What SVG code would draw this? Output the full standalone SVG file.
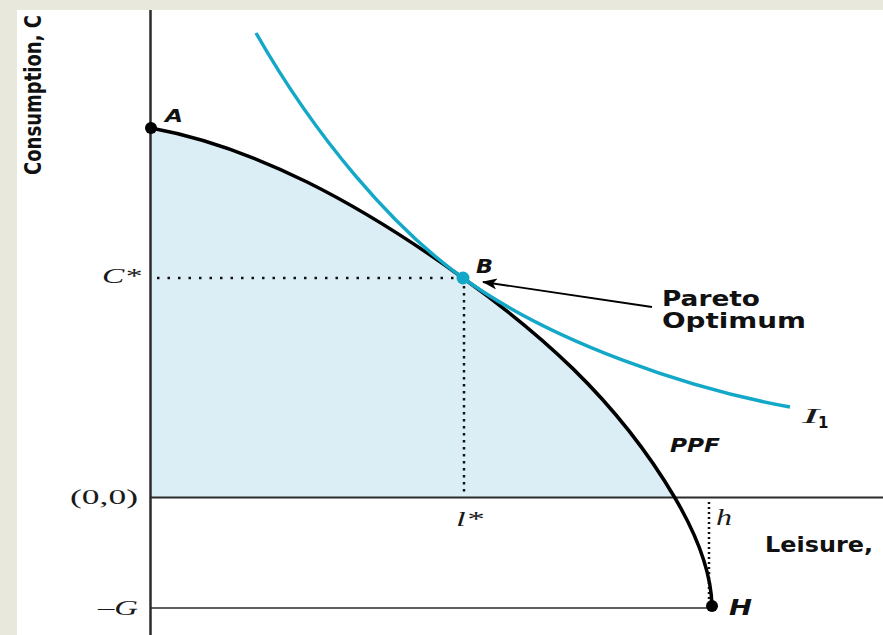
<svg xmlns="http://www.w3.org/2000/svg" width="883" height="635" viewBox="0 0 883 635">
<defs>
<style>
.sans{font-family:"DejaVu Sans","Liberation Sans",sans-serif;font-weight:bold;fill:#111}
.sansi{font-family:"DejaVu Sans","Liberation Sans",sans-serif;font-weight:bold;font-style:italic;fill:#111}
.serif{font-family:"Liberation Serif","DejaVu Serif",serif;fill:#1a1a1a}
.serifi{font-family:"Liberation Serif","DejaVu Serif",serif;font-style:italic;fill:#1a1a1a}
.axis{stroke:#2b2b2b;fill:none}
.dot{stroke:#111;stroke-width:2.5;fill:none}
.ppf{stroke:#000;stroke-width:3.5;fill:none}
.ic{stroke:#14a8c8;stroke-width:3.5;fill:none}
</style>
<marker id="ah" viewBox="0 0 15 11" refX="14" refY="5.5" markerWidth="15" markerHeight="11" markerUnits="userSpaceOnUse" orient="auto">
<path d="M0,0 L15,5.5 L0,11 L4,5.5 Z" fill="#000"/>
</marker>
</defs>
<rect width="883" height="635" fill="#fff"/>
<g id="feasible">
<path d="M151,128 C255,147 359,203 463,278 C534,329 615,396 675,498 L151,498 Z" fill="#dceef5"/>
</g>
<g id="y-label">
<text class="sans" transform="translate(41,175) rotate(-90)" font-size="23" textLength="160" lengthAdjust="spacingAndGlyphs" style="font-family:'DejaVu Sans Condensed','DejaVu Sans',sans-serif">Consumption, C</text>
</g>
<g id="axes">
<line class="axis" x1="150.5" y1="10" x2="150.5" y2="635" stroke-width="2.5"/>
<line class="axis" x1="151" y1="497.5" x2="883" y2="497.5" stroke-width="2.2"/>
<line class="axis" x1="151" y1="608" x2="712" y2="608" stroke-width="1.6"/>
</g>
<g id="guides">
<line class="dot" x1="157" y1="278" x2="460" y2="278" stroke-dasharray="2.5 8"/>
<line class="dot" x1="464" y1="286" x2="464" y2="495" stroke-dasharray="2.5 4.5"/>
<line class="dot" x1="709" y1="502" x2="709" y2="600" stroke-dasharray="2 3" stroke-width="2.2"/>
</g>
<g id="ppf">
<path class="ppf" d="M151,128 C255,147 359,203 463,278 C534,329 615,396 675,498 C690,523.5 711,566 712,606"/>
</g>
<g id="indifference">
<path class="ic" d="M256,33 C316,138 393,228 463,278 C553,343 690,389 790,407"/>
</g>
<g id="connectors">
<line x1="652" y1="307" x2="483" y2="282" stroke="#000" stroke-width="1.8" marker-end="url(#ah)"/>
</g>
<g id="point-A">
<circle cx="151" cy="128" r="6" fill="#000"/>
<text class="sansi" x="165" y="122" font-size="18" textLength="18" lengthAdjust="spacingAndGlyphs">A</text>
</g>
<g id="point-B">
<circle cx="463" cy="278" r="6.5" fill="#14a8c8"/>
<text class="sansi" x="476" y="273" font-size="20" textLength="17" lengthAdjust="spacingAndGlyphs">B</text>
</g>
<g id="point-H">
<circle cx="712" cy="606" r="6" fill="#000"/>
<text class="sansi" x="729" y="615" font-size="21" textLength="23" lengthAdjust="spacingAndGlyphs">H</text>
</g>
<g id="label-pareto">
<text class="sans" x="662" y="306" font-size="21" textLength="98" lengthAdjust="spacingAndGlyphs">Pareto</text>
<text class="sans" x="662" y="328" font-size="21" textLength="144" lengthAdjust="spacingAndGlyphs">Optimum</text>
</g>
<g id="label-ppf">
<text class="sansi" x="670" y="452" font-size="20" textLength="50" lengthAdjust="spacingAndGlyphs">PPF</text>
</g>
<g id="label-I1">
<text class="serifi" x="802" y="423" font-size="22" textLength="17" lengthAdjust="spacingAndGlyphs">I</text>
<text class="sans" x="818" y="428" font-size="15">1</text>
</g>
<g id="label-leisure">
<text class="sans" x="765" y="552" font-size="21" textLength="108" lengthAdjust="spacingAndGlyphs">Leisure,</text>
</g>
<g id="label-h">
<text class="serifi" x="716" y="525" font-size="23" textLength="16" lengthAdjust="spacingAndGlyphs">h</text>
</g>
<g id="label-lstar">
<text class="serifi" x="456" y="526" font-size="22" textLength="27" lengthAdjust="spacingAndGlyphs">l*</text>
</g>
<g id="label-Cstar">
<text class="serifi" x="102" y="283" font-size="22" textLength="39" lengthAdjust="spacingAndGlyphs">C*</text>
</g>
<g id="label-origin">
<text class="serif" x="70" y="504" font-size="22" textLength="68" lengthAdjust="spacingAndGlyphs">(0,0)</text>
</g>
<g id="label-G">
<text class="serif" x="98" y="615" font-size="21" textLength="40" lengthAdjust="spacingAndGlyphs">–<tspan font-style="italic">G</tspan></text>
</g>
<g id="frame">
<rect x="0" y="0" width="883" height="10" fill="#e8e8dc"/>
<rect x="0" y="0" width="17" height="635" fill="#e8e8dc"/>
</g>
</svg>
